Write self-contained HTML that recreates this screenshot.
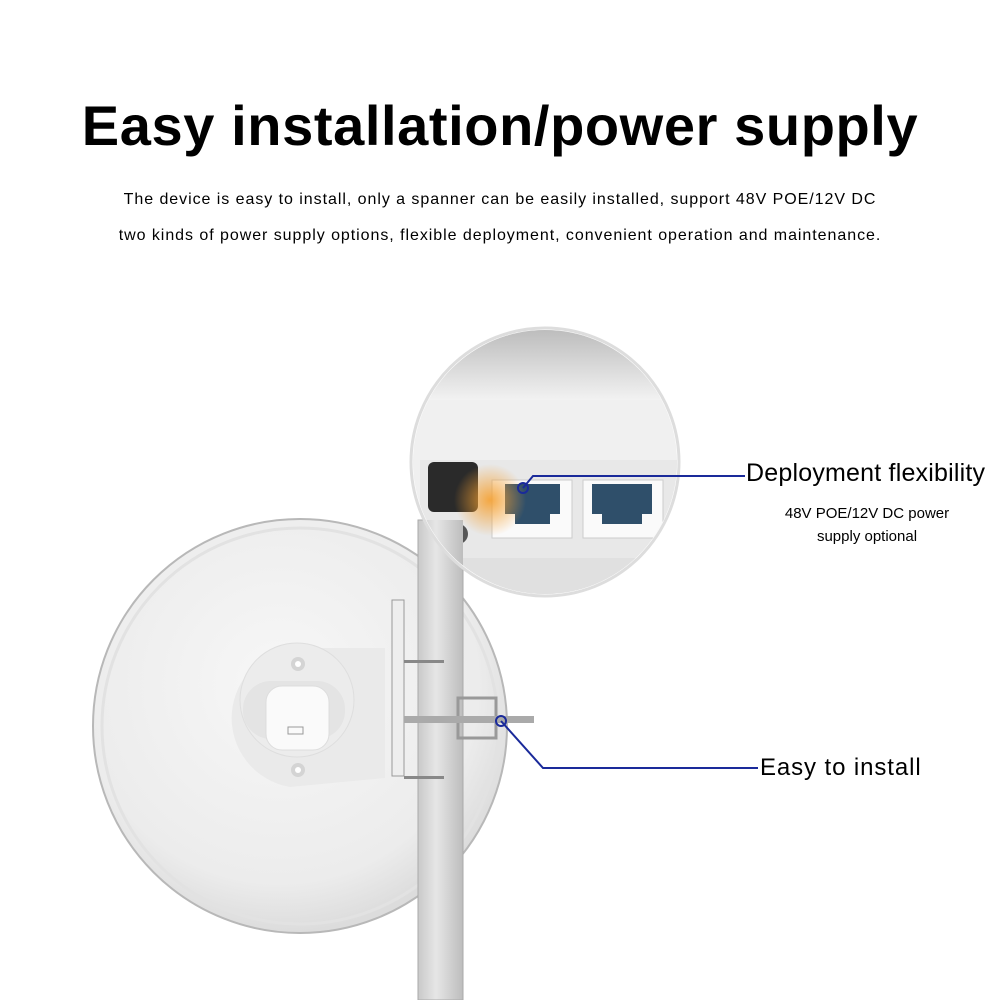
<!DOCTYPE html>
<html><head><meta charset="utf-8"><style>
html,body{margin:0;padding:0;background:#fff}
body{width:1000px;height:1000px;position:relative;overflow:hidden;font-family:"Liberation Sans",Arial,sans-serif}
.t{position:absolute;left:0;width:1000px;text-align:center;color:#000}
</style></head><body>
<div class="t" style="top:93px;font-size:56px;font-weight:bold;letter-spacing:0.6px">Easy installation/power supply</div>
<div class="t" style="top:191px;font-size:16px;letter-spacing:0.95px">The device is easy to install, only a spanner can be easily installed, support 48V POE/12V DC</div>
<div class="t" style="top:227px;font-size:16px;letter-spacing:0.95px">two kinds of power supply options, flexible deployment, convenient operation and maintenance.</div>
<svg width="1000" height="1000" style="position:absolute;left:0;top:0">
<defs>
<radialGradient id="dish" cx="0.45" cy="0.4" r="0.6"><stop offset="0" stop-color="#f7f7f7"/><stop offset="0.8" stop-color="#ececec"/><stop offset="1" stop-color="#dcdcdc"/></radialGradient>
<linearGradient id="pole" x1="0" x2="1"><stop offset="0" stop-color="#c9c9c9"/><stop offset="0.4" stop-color="#e6e6e6"/><stop offset="1" stop-color="#bdbdbd"/></linearGradient>
<radialGradient id="glow" cx="0.5" cy="0.5" r="0.5"><stop offset="0" stop-color="#f5a030" stop-opacity="0.9"/><stop offset="1" stop-color="#f5a030" stop-opacity="0"/></radialGradient>
<linearGradient id="top" x1="0" y1="0" x2="0" y2="1"><stop offset="0" stop-color="#bdbdbd"/><stop offset="1" stop-color="#f2f2f2"/></linearGradient>
<clipPath id="ic"><circle cx="545" cy="462" r="132"/></clipPath>
</defs>
<circle cx="300" cy="726" r="207" fill="url(#dish)" stroke="#b8b8b8" stroke-width="2"/>
<circle cx="300" cy="726" r="198" fill="none" stroke="#e2e2e2" stroke-width="3"/>
<path d="M300 648 H385 V778 L290 787 A70 70 0 0 1 300 648Z" fill="#eaeaea"/>
<circle cx="297" cy="700" r="57" fill="#ececec" stroke="#dedede"/>
<rect x="243" y="681" width="102" height="58" rx="28" fill="#e4e4e4"/>
<rect x="266" y="686" width="63" height="64" rx="16" fill="#fafafa" stroke="#ddd"/>
<rect x="288" y="727" width="15" height="7" fill="none" stroke="#999"/>
<circle cx="298" cy="664" r="7" fill="#d4d4d4"/><circle cx="298" cy="664" r="3" fill="#fff"/>
<circle cx="298" cy="770" r="7" fill="#d4d4d4"/><circle cx="298" cy="770" r="3" fill="#fff"/>
<rect x="418" y="520" width="45" height="480" fill="url(#pole)" stroke="#aaa"/>
<rect x="392" y="600" width="12" height="176" fill="#eee" stroke="#999"/>
<rect x="404" y="660" width="40" height="3" fill="#888"/>
<rect x="404" y="776" width="40" height="3" fill="#888"/>
<rect x="458" y="698" width="38" height="40" fill="none" stroke="#999" stroke-width="3"/>
<rect x="404" y="716" width="130" height="7" fill="#aaa"/>
<circle cx="545" cy="462" r="134" fill="#fff" stroke="#ddd" stroke-width="3"/>
<g clip-path="url(#ic)">
<rect x="400" y="330" width="300" height="280" fill="#f0f0f0"/>
<rect x="400" y="330" width="300" height="70" fill="url(#top)"/>
<rect x="420" y="460" width="300" height="140" fill="#e8e8e8"/>
<rect x="428" y="462" width="50" height="50" rx="6" fill="#2a2a2a"/>
<circle cx="458" cy="534" r="10" fill="#555"/>
<rect x="420" y="558" width="300" height="60" fill="#e0e0e0"/>
<rect x="418" y="520" width="45" height="100" fill="url(#pole)"/>
<rect x="492" y="480" width="80" height="58" fill="#fafafa" stroke="#ccc"/>
<rect x="583" y="480" width="80" height="58" fill="#fafafa" stroke="#ccc"/>
<path d="M505 484 h55 v30 h-10 v10 h-35 v-10 h-10z" fill="#2f4f6a"/>
<path d="M592 484 h60 v30 h-10 v10 h-40 v-10 h-10z" fill="#2f4f6a"/>
<circle cx="490" cy="500" r="36" fill="url(#glow)"/>
</g>
<polyline points="523,488 533,476 745,476" fill="none" stroke="#1a2a9a" stroke-width="2"/>
<circle cx="523" cy="488" r="5" fill="none" stroke="#1a2a9a" stroke-width="2"/>
<polyline points="501,721 543,768 758,768" fill="none" stroke="#1a2a9a" stroke-width="2"/>
<circle cx="501" cy="721" r="5" fill="none" stroke="#1a2a9a" stroke-width="2"/>
</svg>
<div style="position:absolute;left:746px;top:459px;font-size:25px;letter-spacing:0.2px">Deployment flexibility</div>
<div style="position:absolute;left:757px;top:502px;width:220px;text-align:center;font-size:15px;line-height:23px">48V POE/12V DC power<br>supply optional</div>
<div style="position:absolute;left:760px;top:754px;font-size:24px;letter-spacing:0.9px">Easy to install</div>
</body></html>
